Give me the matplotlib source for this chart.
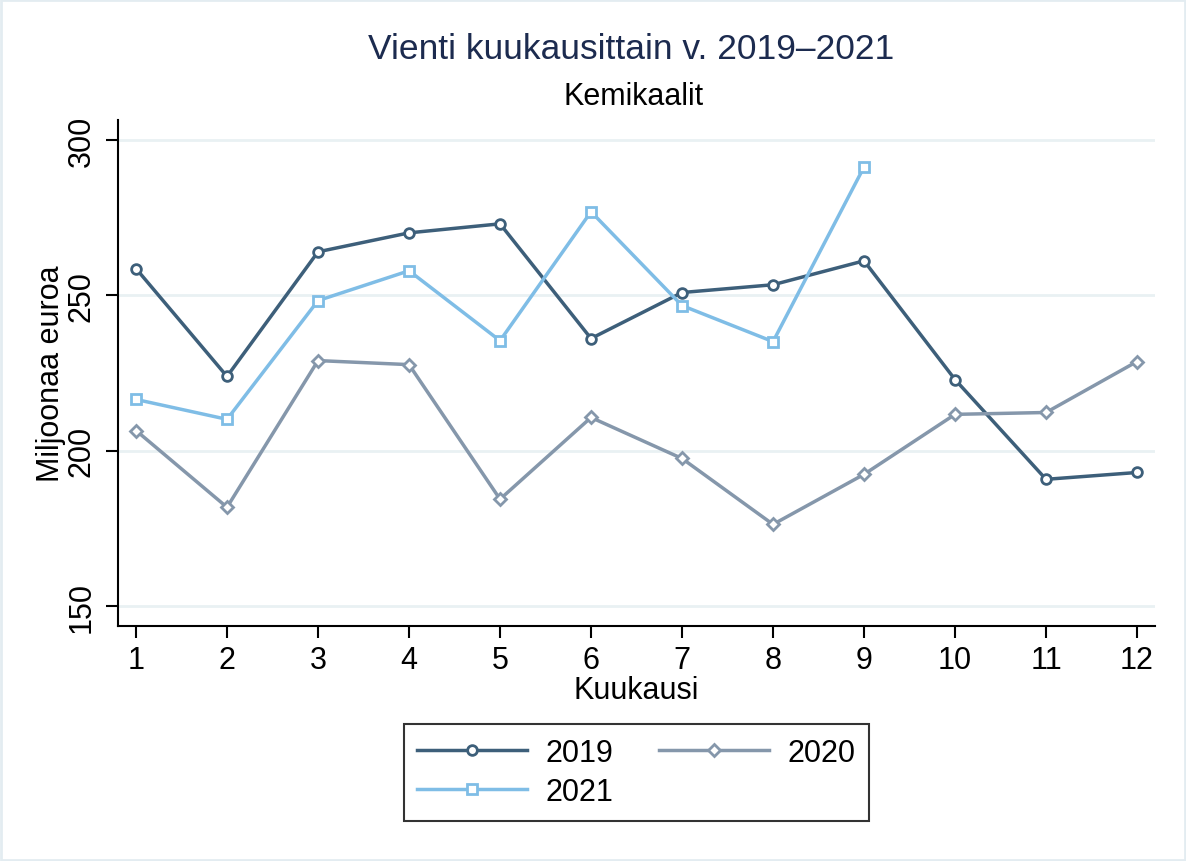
import matplotlib.pyplot as plt
import numpy as np

plt.rcParams['font.family'] = ['Liberation Sans', 'DejaVu Sans']

kuukaudet = list(range(1, 13))
v2019 = [258.6, 223.9, 264.0, 270.1, 273.0, 236.1, 250.9, 253.4, 261.1, 222.9, 190.8, 193.0]
v2020 = [206.5, 181.8, 229.0, 227.7, 184.4, 210.7, 197.5, 176.3, 192.4, 211.7, 212.3, 228.7]
v2021 = [216.5, 210.1, 248.3, 257.9, 235.4, 276.9, 246.7, 235.1, 291.3]
y_ticks = [150, 200, 250, 300]

fig = plt.figure(figsize=(11.86, 8.62), dpi=100)
# light frame round the whole picture
fig.patches.append(plt.Rectangle((0.001, 0.001), 0.998, 0.998, transform=fig.transFigure,
                                 fill=False, edgecolor='#e3ecf1', linewidth=2))
ax = fig.add_axes([0.0995, 0.2726, 0.8744, 0.5870])

l19, = ax.plot(kuukaudet, v2019, color='#3d5f7a', lw=2.5, marker='o', ms=7, mfc='white', mew=2, label='2019')
l20, = ax.plot(kuukaudet, v2020, color='#8597ab', lw=2.5, marker='D', ms=6, mfc='white', mew=2, label='2020')
l21, = ax.plot(kuukaudet[:len(v2021)], v2021, color='#7fbde6', lw=2.5, marker='s', ms=7, mfc='white', mew=2, label='2021')

ax.set_xlim(0.802, 12.198)
ax.set_ylim(143.6, 306.4)
ax.set_xticks(kuukaudet)
ax.set_yticks(y_ticks)
ax.set_yticklabels([str(t) for t in y_ticks], rotation=90, va='center')
ax.tick_params(labelsize=22, length=8.5, width=1.5, colors='black')
ax.tick_params(axis='x', pad=5)
ax.tick_params(axis='y', pad=7)
ax.grid(axis='y', color='#e9f1f3', lw=2)
ax.set_axisbelow(True)
for s in ['top', 'right']:
    ax.spines[s].set_visible(False)
for s in ['left', 'bottom']:
    ax.spines[s].set_linewidth(1.5)

ax.set_xlabel('Kuukausi', fontsize=22, labelpad=0)
ax.set_ylabel('Miljoonaa euroa', fontsize=22, labelpad=0)

fig.text(0.532, 0.942, 'Vienti kuukausittain v. 2019\u20132021', ha='center', va='center',
         fontsize=25.5, color='#1c2b4f')
fig.text(0.534, 0.8875, 'Kemikaalit', ha='center', va='center', fontsize=22)

leg = fig.legend([l19, l21, l20], ['2019', '2021', '2020'], loc='center',
                 bbox_to_anchor=(0.5367, 0.1030), ncol=2, fontsize=22, frameon=True,
                 fancybox=False, edgecolor='black', numpoints=1, handlelength=3.6,
                 handletextpad=0.6, columnspacing=1.5, borderpad=0.45, labelspacing=0.3)
leg.get_frame().set_linewidth(1.5)

fig.savefig('out.png', dpi=100)
